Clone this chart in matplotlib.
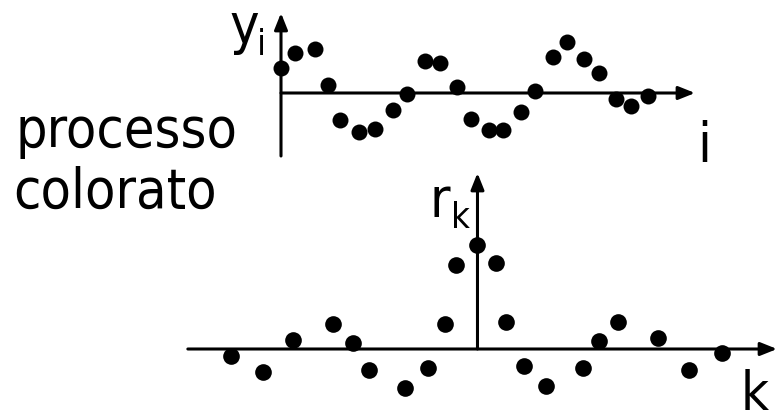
import matplotlib
matplotlib.use("Agg")
import matplotlib.pyplot as plt

W, H, DPI = 778, 417, 100

# Coloured process: sample positions and values y_i
i_pos = [0.0, 0.9, 2.1, 2.95, 3.7, 4.9, 5.85, 7.0, 7.9, 9.0, 9.95, 11.0,
         11.85, 13.0, 13.9, 15.0, 15.9, 17.0, 17.9, 18.95, 19.9, 20.95, 21.9, 22.95]
y_vals = [2.5, 4.0, 4.4, 0.8, -2.7, -3.9, -3.6, -1.7, -0.1, 3.2, 3.0, 0.6,
          -2.6, -3.7, -3.7, -1.9, 0.2, 3.6, 5.1, 3.4, 2.0, -0.6, -1.3, -0.3]

# Its autocorrelation r_k at lags k
k_pos = [-15.4, -13.4, -11.5, -9.0, -7.8, -6.75, -4.5, -3.1, -2.0, -1.35, 0.0,
         1.15, 1.8, 2.9, 4.3, 6.6, 7.6, 8.8, 11.3, 13.2, 15.3]
r_vals = [-0.7, -2.3, 0.9, 2.5, 0.6, -2.1, -3.9, -1.9, 2.5, 8.4, 10.4,
          8.6, 2.7, -1.7, -3.7, -1.9, 0.8, 2.7, 1.1, -2.1, -0.4]

FONT = dict(family="DejaVu Sans", stretch="condensed")

fig = plt.figure(figsize=(W / DPI, H / DPI), dpi=DPI)


def px_rect(x0, y0, x1, y1):
    return [x0 / W, 1 - y1 / H, (x1 - x0) / W, (y1 - y0) / H]


def ftext(x, y, s, size):
    fig.text(x / W, 1 - y / H, s, fontsize=size, ha="left", va="baseline",
             color="black", **FONT)


def arrow(ax, start, tip):
    ax.annotate("", xy=tip, xytext=start,
                arrowprops=dict(arrowstyle="-|>,head_length=0.55,head_width=0.22",
                                mutation_scale=18, lw=2.2, color="black",
                                shrinkA=0, shrinkB=0),
                annotation_clip=False)


# upper panel: the process
ax1 = fig.add_axes(px_rect(270, 10, 700, 160))
ax1.set_xlim(-0.6875, 26.1875)
ax1.set_ylim(-6.7, 8.3)
ax1.axis("off")
arrow(ax1, (0, -6.3), (0, 8.0))
arrow(ax1, (0, 0), (25.875, 0))
ax1.plot(i_pos, y_vals, "o", color="black", ms=11.5, mew=0, zorder=5,
         clip_on=False)

# lower panel: autocorrelation
ax2 = fig.add_axes(px_rect(180, 165, 778, 412))
ax2.set_xlim(-18.59, 18.78)
ax2.set_ylim(-6.3, 18.4)
ax2.axis("off")
arrow(ax2, (0, 0), (0, 17.6))
arrow(ax2, (-18.1, 0), (18.72, 0))
ax2.plot(k_pos, r_vals, "o", color="black", ms=12, mew=0, zorder=5,
         clip_on=False)

# labels
ftext(15, 147, "processo", 40)
ftext(13, 208, "colorato", 40)
ftext(229, 43, "y", 40)
ftext(257, 55, "i", 26)
ftext(697, 162, "i", 40)
ftext(430, 217, "r", 40)
ftext(451, 228, "k", 26)
ftext(741, 410, "k", 39)

fig.savefig("out.png", dpi=DPI)
